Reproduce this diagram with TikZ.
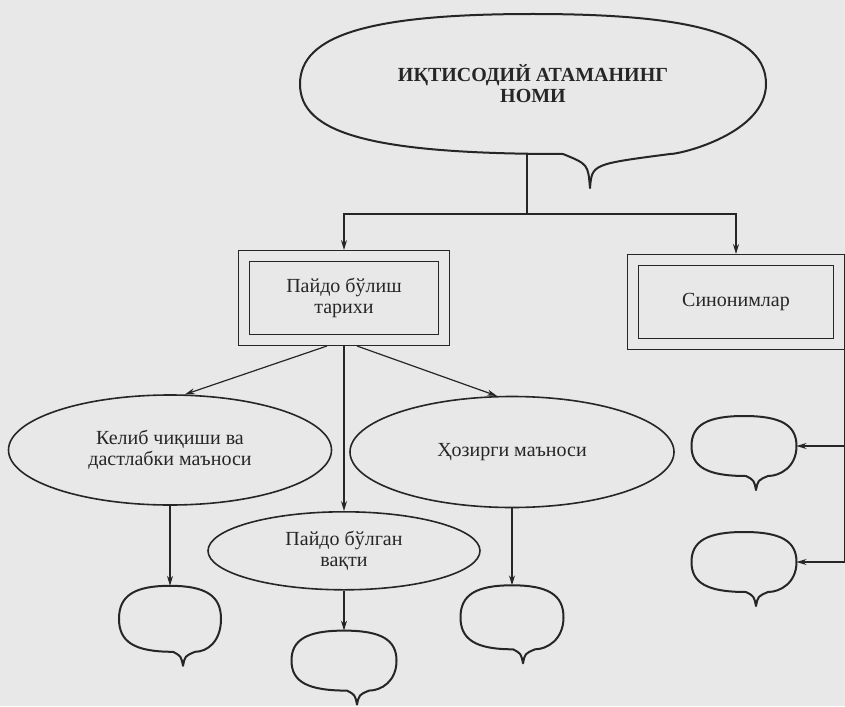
\documentclass[tikz,border=0pt]{standalone}
\usepackage{fontspec}
\setmainfont{Liberation Serif}
\usetikzlibrary{calc, positioning, arrows.meta, shapes.geometric}
\definecolor{paper}{gray}{0.91}
\definecolor{ink}{gray}{0.15}

% outline of a speech bubble round an empty node: name, tip shift, tip depth, left and right half of the tail
\newcommand{\bubbleline}[5]{%
	\draw[bubbleedge] (#1.west)
		.. controls ($(#1.west)!0.7!(#1.north west)$) and ($(#1.north)!0.7!(#1.north west)$) .. (#1.north)
		.. controls ($(#1.north)!0.7!(#1.north east)$) and ($(#1.east)!0.7!(#1.north east)$) .. (#1.east)
		.. controls ($(#1.east)!0.7!(#1.south east)$) and ($(#1.south)+(#2+#5+6pt,0)$) .. ($(#1.south)+(#2+#5,0)$)
		.. controls ($(#1.south)+(#2+1pt,-0.3*#3)$) .. ($(#1.south)+(#2,-#3)$)
		.. controls ($(#1.south)+(#2-1pt,-0.3*#3)$) .. ($(#1.south)+(#2-#4,0)$)
		.. controls ($(#1.south)!0.7!(#1.south west)$) and ($(#1.west)!0.7!(#1.south west)$) .. (#1.west) -- cycle;}

\begin{document}
\begin{tikzpicture}[
			color=ink,
			font=\fontsize{10pt}{10.5pt}\selectfont,
			>={Stealth[length=5pt,width=3pt]},
			line width=0.6pt,
			dbox/.style={draw, rectangle, double=paper, double distance=4.6pt, minimum width=100pt, minimum height=42pt, align=center, outer sep=3pt},
			oval/.style={draw, ellipse, line width=0.8pt, inner sep=0pt, align=center},
			bubble/.style={rectangle, inner sep=0pt, outer sep=0pt, align=center},
			bubbleedge/.style={line width=1pt, line join=round},
			link/.style={->, line width=0.6pt}
		]
		\path[use as bounding box, fill=paper] (0,0) rectangle (422.5pt,-353pt);

		\node[bubble, minimum width=233pt, minimum height=70pt, font=\fontsize{10pt}{10.5pt}\selectfont\bfseries] (title) at (266.5pt,-42pt) {ИҚТИСОДИЙ АТАМАНИНГ\\НОМИ};
		\coordinate[below=30pt of title, xshift=-3pt] (split);

		\node[dbox] (hist) at (172pt,-149pt) {Пайдо бўлиш\\тарихи};
		\node[dbox, minimum width=103pt] (syn) at (368pt,-151pt) {Синонимлар};

		\node[oval, minimum width=161.5pt, minimum height=55pt] (origin) at (85pt,-225pt) {Келиб чиқиши ва\\дастлабки маъноси};
		\node[oval, minimum width=162pt, minimum height=55.5pt] (modern) at (256pt,-226pt) {Ҳозирги маъноси};
		\node[oval, minimum width=136pt, minimum height=39pt, below=82.5pt of hist] (period) {Пайдо бўлган\\вақти};

		\node[bubble, minimum width=51pt, minimum height=33pt, below=40pt of origin] (b1) {};
		\node[bubble, minimum width=52.5pt, minimum height=30pt, below=20pt of period] (b2) {};
		\node[bubble, minimum width=51.5pt, minimum height=32pt, below=38.5pt of modern] (b3) {};
		\node[bubble, minimum width=52.5pt, minimum height=30pt, below=33pt of syn, xshift=4pt] (b4) {};
		\node[bubble, minimum width=52.5pt, minimum height=30pt, below=28pt of b4] (b5) {};

		\bubbleline{title}{28.5pt}{17pt}{13.5pt}{40pt}
		\bubbleline{b1}{6.5pt}{7pt}{5pt}{6pt}
		\bubbleline{b2}{6.5pt}{7pt}{5pt}{6pt}
		\bubbleline{b3}{5.5pt}{7pt}{5pt}{6pt}
		\bubbleline{b4}{6pt}{7pt}{5pt}{6pt}
		\bubbleline{b5}{6pt}{7pt}{5pt}{6pt}

		\draw (split |- title.south) -- (split);
		\draw[link] (split) -| (hist.north);
		\draw[link] (split) -| (syn.north);
		\draw[link] ([xshift=-8.5pt]hist.south) -- (origin.75);
		\draw[link] (hist.south) -- (period.north);
		\draw[link] ([xshift=6.5pt]hist.south) -- (modern.105);
		\draw[link] (origin) -- (b1);
		\draw[link] (period) -- (b2);
		\draw[link] (modern) -- (b3);
		\draw[link] (syn.south east) |- (b4.east);
		\draw[link] (syn.south east) |- (b5.east);
	\end{tikzpicture}
\end{document}
